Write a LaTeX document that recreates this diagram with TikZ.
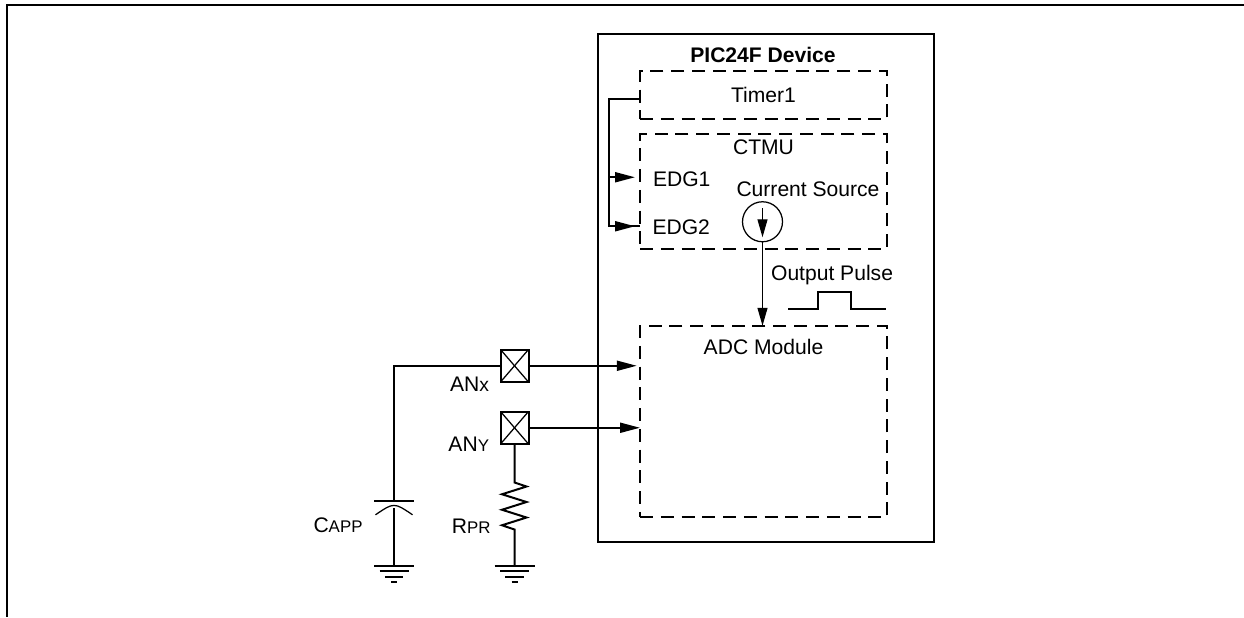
\documentclass[tikz,border=0pt]{standalone}
\usepackage{fontspec}
\setmainfont{Liberation Sans}
\usetikzlibrary{arrows.meta,positioning}
\newcommand{\lowsize}{\fontsize{9.6}{11}\selectfont}

\begin{document}
\begin{tikzpicture}[
    node distance=3mm and 3mm,
    base/.style={line width=0.4mm},
    txt/.style={inner sep=0pt, outer sep=0pt, font=\fontsize{12}{13}\selectfont},
    dashbox/.style={draw, base, dash pattern=on 2.6mm off 1.55mm, inner sep=0pt, outer sep=0pt, minimum width=49.4mm, align=center, font=\fontsize{12}{13}\selectfont},
    pad/.style={draw, base, inner sep=0pt, outer sep=0pt, minimum width=5.6mm, minimum height=6.5mm},
    wire/.style={base},
    thinwire/.style={line width=0.25mm},
    line/.style={base, -{Triangle[length=4mm,width=2mm]}},
    thinline/.style={thinwire, -{Triangle[length=3.6mm,width=2mm]}},
    gnd/.pic={
        \draw[base] (-4mm,0) -- (4mm,0);
        \draw[base] (-2.9mm,-1.14mm) -- (2.9mm,-1.14mm);
        \draw[base] (-1.85mm,-2.2mm) -- (1.85mm,-2.2mm);
        \draw[base] (-0.6mm,-3.3mm) -- (0.6mm,-3.3mm);
    }
]
\path[use as bounding box] (0,0) rectangle (248.8mm,-123.4mm);
\draw[base] (248.8mm,-1mm) -| (1.4mm,-123.4mm);

\node[draw, base, inner sep=0pt, outer sep=0pt, minimum width=67.3mm, minimum height=101.5mm] (device) at (153.15mm,-57.6mm) {};
\node[txt, below=2.6mm of device.north, xshift=-0.55mm, font=\bfseries\fontsize{12}{13}\selectfont] (title) {PIC24F Device};

\node[dashbox, minimum height=9.6mm, below=7.4mm of device.north, xshift=-0.45mm] (timer) {Timer1};
\node[dashbox, minimum height=22.9mm, below=of timer] (ctmu) {};
\node[dashbox, minimum height=38.3mm, below=15.4mm of ctmu] (adc) {};
\node[txt, below=1.2mm of ctmu.north] (ctmulabel) {CTMU};
\node[txt, below=2.6mm of adc.north] (adclabel) {ADC Module};

\coordinate (timerout) at ([yshift=-5.6mm]timer.north west);
\coordinate[left=6.2mm of timerout] (bus);
\coordinate (edgin1) at ([yshift=-8.6mm]ctmu.north west);
\coordinate (edgin2) at ([yshift=-18.4mm]ctmu.north west);
\node[txt, right=2.6mm of edgin1, yshift=-0.4mm] (edg1) {EDG1};
\node[txt, right=2.5mm of edgin2, yshift=-0.2mm] (edg2) {EDG2};

\node[draw, circle, thinwire, inner sep=0pt, outer sep=0pt, minimum size=8mm, above=1.4mm of ctmu.south, xshift=-0.2mm] (source) {};
\node[txt, below left=9.5mm and 1.5mm of ctmu.north east] (sourcelabel) {Current Source};

\coordinate[above left=3.4mm and 0.3mm of adc.north east] (pulseend);
\node[txt, above left=4.8mm and -1.5mm of pulseend] (pulselabel) {Output Pulse};

\coordinate (adcx) at ([yshift=-8mm]adc.north west);
\coordinate (adcy) at ([yshift=-20.4mm]adc.north west);
\node[pad, left=22.3mm of adcx] (padx) {};
\node[pad, left=22.3mm of adcy] (pady) {};
\node[txt, below left=-1mm and 2.3mm of padx.south west] (anx) {AN{\fontsize{11}{13}\selectfont x}};
\node[txt, below left=-1.4mm and 2.3mm of pady.south west] (any) {AN{\lowsize Y}};

\coordinate[left=21.3mm of padx.west] (capbend);
\coordinate[below=27mm of capbend] (capplate);
\coordinate[below=13mm of capplate] (capgnd);
\coordinate[below=7.7mm of pady.south] (restop);
\coordinate (resgnd) at (pady |- capgnd);
\node[txt, below left=3.5mm and 6.3mm of capplate] (capp) {C{\lowsize APP}};
\node[txt, below left=7.3mm and 4.8mm of restop] (rpr) {R{\lowsize PR}};

\foreach \p in {padx,pady} {
    \draw[thinwire] (\p.north west) -- (\p.south east);
    \draw[thinwire] (\p.south west) -- (\p.north east);
}

\draw[wire] (timerout) -- (bus) |- (edgin2);
\draw[line, shorten >=1mm] (bus |- edgin1) -- (edgin1);
\draw[line, shorten >=1mm] (bus |- edgin2) -- (edgin2);
\draw[thinline] ([yshift=-1.3mm]source.north) -- ([yshift=0.9mm]source.south);
\draw[thinline] (source.south) -- (source.south |- adc.north);
\draw[wire] (pulseend) -- ++(-7mm,0) -- ++(0,3.3mm) -- ++(-6.5mm,0) -- ++(0,-3.3mm) -- ++(-6mm,0);

\draw[line, shorten >=0.65mm] (padx) -- (adcx);
\draw[line] (pady) -- (adcy);
\draw[wire] (padx) -| (capplate);
\draw[wire] ([xshift=-4mm]capplate) -- ([xshift=4mm]capplate);
\draw[thinwire] ([shift={(-3.7mm,-2.8mm)}]capplate) .. controls ([yshift=-0.3mm]capplate) .. ([shift={(3.7mm,-2.8mm)}]capplate);
\draw[wire] ([yshift=-1.54mm]capplate) -- (capgnd);
\draw[wire] (pady) -- (restop) -- ++(2.4mm,-0.8mm) -- ++(-4.9mm,-1.55mm) -- ++(4.9mm,-1.55mm) -- ++(-4.9mm,-1.55mm) -- ++(4.9mm,-1.55mm) -- ++(-4.9mm,-1.55mm) -- ++(2.5mm,-0.85mm) -- (resgnd);
\pic at (capgnd) {gnd};
\pic at (resgnd) {gnd};
\end{tikzpicture}
\end{document}
